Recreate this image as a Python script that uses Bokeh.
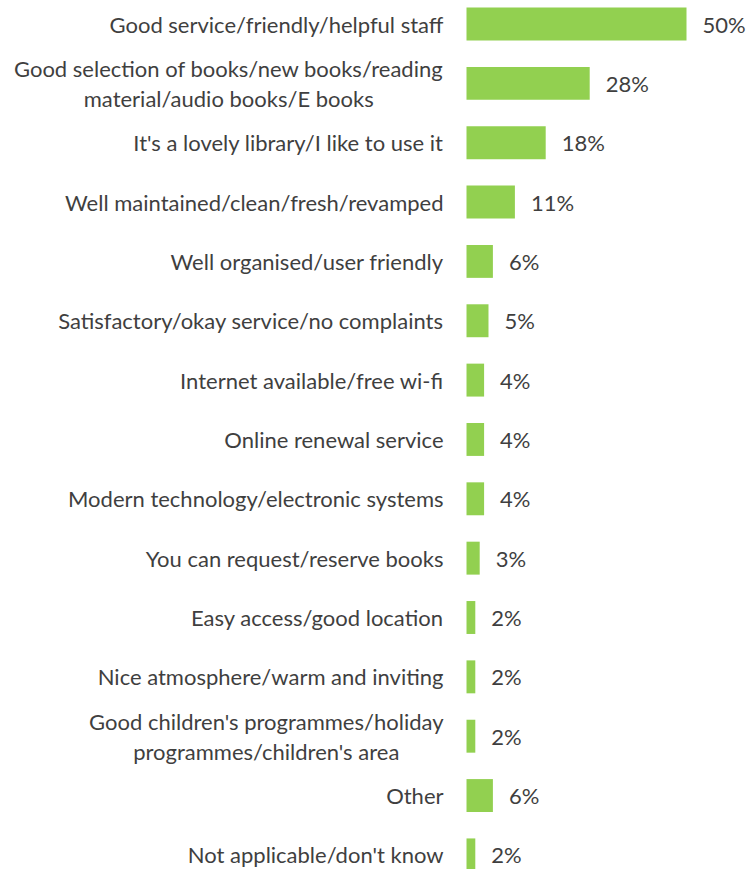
from bokeh.plotting import figure
from bokeh.models import ColumnDataSource, Range1d
from bokeh.core.properties import value
from bokeh.embed import file_html
from bokeh.resources import INLINE

# Reasons given, top to bottom, with share of respondents (%)
categories = [
    "Good service/friendly/helpful staff",
    "Good selection of books/new books/reading\nmaterial/audio books/E books",
    "It's a lovely library/I like to use it",
    "Well maintained/clean/fresh/revamped",
    "Well organised/user friendly",
    "Satisfactory/okay service/no complaints",
    "Internet available/free wi-fi",
    "Online renewal service",
    "Modern technology/electronic systems",
    "You can request/reserve books",
    "Easy access/good location",
    "Nice atmosphere/warm and inviting",
    "Good children's programmes/holiday\nprogrammes/children's area",
    "Other",
    "Not applicable/don't know",
]
percentages = [50, 28, 18, 11, 6, 5, 4, 4, 4, 3, 2, 2, 2, 6, 2]

BAR_COLOR = "#92D050"
TEXT_COLOR = "#3F3F3F"
FONT = "Lato"

W, H = 750, 869
rows = list(range(len(categories)))
source = ColumnDataSource(dict(
    row=rows,
    cat=categories,
    pct=percentages,
    lbl=[f"{v}%" for v in percentages],
))

# Scale: 4.4 px per percentage point, bars start 466 px from the left edge
px_per_pct = 4.4
x0_px = 466
row_px = 59.35
first_row_px = 23.5

p = figure(
    width=W, height=H,
    x_range=Range1d(-x0_px / px_per_pct, (W - x0_px) / px_per_pct),
    y_range=Range1d((H - first_row_px) / row_px, -first_row_px / row_px),
    output_backend="svg", toolbar_location=None,
    min_border=0, min_border_left=0, min_border_right=0,
    min_border_top=0, min_border_bottom=0,
)
p.axis.visible = False
p.grid.visible = False
p.outline_line_color = None
p.background_fill_color = "white"
p.border_fill_color = "white"

p.hbar(y="row", left=0, right="pct", height=0.555, source=source,
       fill_color=BAR_COLOR, line_color=None)

# Value labels to the right of each bar
p.text(x="pct", y="row", text="lbl", source=source,
       x_offset=16, text_align="left", text_baseline="middle",
       text_font=value(FONT), text_font_size="22px", text_color=TEXT_COLOR)

# Category labels, right-aligned block, lines centred within it
p.text(x=0, y="row", text="cat", source=source,
       x_offset=-23, text_align="center", anchor="center_right",
       text_font=value(FONT), text_font_size="22px", text_color=TEXT_COLOR,
       text_line_height=1.1)

open("out.html", "w").write(file_html(p, INLINE))
